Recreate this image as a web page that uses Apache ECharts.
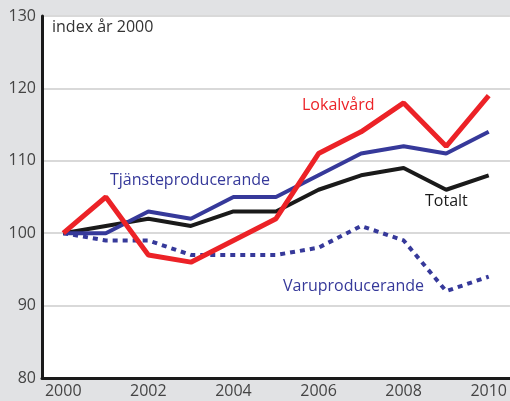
<!DOCTYPE html>
<html>
<head>
<meta charset="utf-8">
<script src="https://cdn.jsdelivr.net/npm/echarts@6/dist/echarts.min.js"></script>
<style>
  html, body { margin: 0; padding: 0; background: #e1e2e4; }
  #chart { width: 510px; height: 401px; }
</style>
</head>
<body>
<div id="chart"></div>
<script>
  var years = ['2000', '2001', '2002', '2003', '2004', '2005', '2006', '2007', '2008', '2009', '2010'];
  var lokalvard = [100, 105, 97, 96, 99, 102, 111, 114, 118, 112, 119];
  var tjanste = [100, 100, 103, 102, 105, 105, 108, 111, 112, 111, 114];
  var totalt = [100, 101, 102, 101, 103, 103, 106, 108, 109, 106, 108];
  var varu = [100, 99, 99, 97, 97, 97, 98, 101, 99, 92, 94];

  var font = 'Open Sans';
  var chart = echarts.init(document.getElementById('chart'));

  chart.setOption({
    backgroundColor: '#e1e2e4',
    animation: false,
    grid: {
      left: 42, right: 0, top: 16, bottom: 23,
      show: true, backgroundColor: '#ffffff', borderWidth: 0
    },
    xAxis: {
      type: 'category',
      data: years,
      boundaryGap: true,
      axisLine: { lineStyle: { color: '#1a1a1a', width: 3 } },
      axisTick: {
        inside: true, alignWithLabel: true, interval: 0, length: 8,
        lineStyle: { color: '#cfcfcf', width: 1.5 }
      },
      axisLabel: {
        interval: 1, color: '#444', fontSize: 16, fontFamily: font, margin: 5
      },
      splitLine: { show: false }
    },
    yAxis: {
      type: 'value',
      min: 80, max: 130, interval: 10,
      axisLine: { show: true, lineStyle: { color: '#1a1a1a', width: 3 } },
      axisTick: { show: false },
      axisLabel: { color: '#444', fontSize: 16, fontFamily: font, margin: 6 },
      splitLine: { lineStyle: { color: '#d9d9d9', width: 2 } }
    },
    series: [
      {
        name: 'Varuproducerande', type: 'line', data: varu, symbol: 'none',
        lineStyle: { color: '#36399a', width: 4, type: [5, 5], cap: 'butt' }
      },
      {
        name: 'Totalt', type: 'line', data: totalt, symbol: 'none',
        lineStyle: { color: '#1a1a1a', width: 4 }
      },
      {
        name: 'Tjänsteproducerande', type: 'line', data: tjanste, symbol: 'none',
        lineStyle: { color: '#36399a', width: 4 }
      },
      {
        name: 'Lokalvård', type: 'line', data: lokalvard, symbol: 'none',
        lineStyle: { color: '#ec2227', width: 5 }
      }
    ],
    graphic: [
      { type: 'text', left: 52, top: 19, style: { text: 'index år 2000', fill: '#333', fontSize: 16, fontFamily: font } },
      { type: 'text', left: 302, top: 97, style: { text: 'Lokalvård', fill: '#ec2227', fontSize: 16, fontFamily: font } },
      { type: 'text', left: 110, top: 172, style: { text: 'Tjänsteproducerande', fill: '#36399a', fontSize: 16, fontFamily: font } },
      { type: 'text', left: 425, top: 193, style: { text: 'Totalt', fill: '#1a1a1a', fontSize: 16, fontFamily: font } },
      { type: 'text', left: 283, top: 278, style: { text: 'Varuproducerande', fill: '#36399a', fontSize: 16, fontFamily: font } }
    ]
  });
</script>
</body>
</html>
